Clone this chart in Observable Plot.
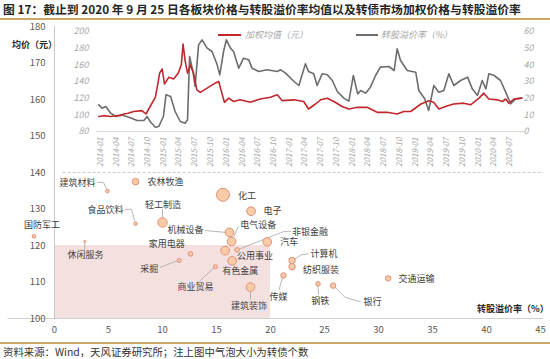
<!DOCTYPE html>
<html><head><meta charset="utf-8">
<script src="https://cdn.jsdelivr.net/npm/d3@7"></script>
<script src="https://cdn.jsdelivr.net/npm/@observablehq/plot@0.6"></script>
<style>
body{margin:0;background:#fff;}
#wrap{position:relative;width:550px;height:359px;overflow:hidden;font-family:"Noto Sans CJK SC",sans-serif;background:#fff;}
#title{position:absolute;left:3px;top:1px;font-size:11.8px;line-height:16px;font-weight:bold;color:#262626;white-space:nowrap;}
.gold{position:absolute;left:0;width:550px;height:2px;background:#c9a865;}
#source{position:absolute;left:3px;top:345px;font-size:10.4px;line-height:14px;color:#333;white-space:nowrap;}
.layer{position:absolute;left:0;top:20px;}
.bold{position:absolute;font-size:9px;line-height:14px;font-weight:bold;color:#262626;white-space:nowrap;}
.leg{position:absolute;top:28px;font-size:9px;line-height:14px;font-style:italic;color:#a6a6a6;white-space:nowrap;}
.sw{position:absolute;top:34px;height:2px;}
</style></head><body>
<div id="wrap">
 <div id="title">图 17：截止到 2020 年 9 月 25 日各板块价格与转股溢价率均值以及转债市场加权价格与转股溢价率</div>
 <div class="gold" style="top:18px"></div>
 <div id="main" class="layer"></div>
 <div id="insetB" class="layer"></div>
 <div id="insetA" class="layer"></div>
 <div class="sw" style="left:218px;width:23px;background:#c0282d"></div>
 <div class="leg" style="left:245px">加权均值（元）</div>
 <div class="sw" style="left:356px;width:22px;background:#6d6d6d"></div>
 <div class="leg" style="left:381px">转股溢价率（%）</div>
 <div class="bold" style="left:12px;top:38px">均价（元）</div>
 <div class="bold" style="left:477px;top:302px">转股溢价率（%）</div>
 <div class="gold" style="top:342px"></div>
 <div id="source">资料来源：Wind，天风证券研究所；注上图中气泡大小为转债个数</div>
</div>
<script>
// ---- bubble chart data: sector, conversion premium (%), average price (yuan), number of bonds
const sectors  = ["建筑材料","农林牧渔","化工","食品饮料","轻工制造","电子","国防军工","机械设备","电气设备","公用事业","非银金融","有色金属","汽车","休闲服务","家用电器","采掘","商业贸易","计算机","纺织服装","传媒","钢铁","银行","交通运输","建筑装饰"];
const premiums = [4.9, 7.5, 15.6, 7.5, 10.0, 18.2, -1.9, 16.2, 16.4, 15.8, 16.9, 16.45, 19.7, 2.8, 12.6, 11.55, 14.9, 22.0, 22.0, 21.2, 24.4, 25.8, 30.9, 18.15];
const prices   = [134.9, 137.5, 133.9, 126.0, 126.3, 129.4, 122.5, 123.6, 121.1, 118.6, 118.8, 115.8, 121.0, 121.1, 117.7, 115.9, 114.2, 115.9, 114.2, 111.8, 109.5, 109.0, 111.0, 108.6];
const counts   = [3, 10, 40, 3, 21, 18, 3, 18, 18, 18, 5, 18, 18, 1, 5, 4, 4, 10, 10, 7, 5, 7, 7, 18];
const xTicks = [0,5,10,15,20,25,30,35,40,45];
const yTicks = [100,110,120,130,140,150,160,170,180];
const shadeX = [0, 20];
const shadeY = [100, 120];

// ---- inset line chart data
const priceSeries = [["2013-12-22",98],["2014-01-20",99],["2014-02-28",98],["2014-04-01",99],["2014-04-25",99],["2014-05-15",101],["2014-06-10",102],["2014-07-12",104],["2014-08-29",105],["2014-09-22",101],["2014-10-16",110],["2014-11-15",121],["2014-11-28",135],["2014-12-10",150],["2014-12-25",155],["2015-01-07",137],["2015-02-01",145],["2015-03-01",143],["2015-03-28",150],["2015-04-15",160],["2015-04-25",185],["2015-05-07",165],["2015-05-21",150],["2015-06-06",160],["2015-06-25",150],["2015-07-14",130],["2015-08-03",127],["2015-09-12",132],["2015-10-28",138],["2015-11-18",140],["2015-12-01",130],["2015-12-21",115],["2016-01-15",120],["2016-02-12",116],["2016-03-21",118],["2016-05-19",115],["2016-07-16",119],["2016-09-13",121],["2016-10-22",124],["2016-11-21",117],["2017-01-28",118],["2017-03-25",116],["2017-04-22",107],["2017-06-01",113],["2017-07-01",118],["2017-08-09",120],["2017-09-16",116],["2017-11-03",110],["2017-12-12",107],["2018-01-31",109],["2018-03-28",109],["2018-05-25",103],["2018-07-22",103],["2018-09-18",101],["2018-10-27",104],["2018-12-06",104],["2019-02-03",113],["2019-03-21",117],["2019-04-18",115],["2019-05-18",107],["2019-06-25",110],["2019-08-12",113],["2019-10-09",114],["2019-11-18",112],["2020-01-06",120],["2020-02-03",126],["2020-03-03",119],["2020-04-21",118],["2020-05-21",116],["2020-06-09",119],["2020-06-27",114],["2020-07-27",119],["2020-09-10",120]];
const premiumSeries = [["2013-12-22",16],["2014-01-10",14],["2014-02-01",15],["2014-03-01",11],["2014-04-01",9],["2014-05-01",10],["2014-06-01",9],["2014-07-01",8],["2014-08-01",6.6],["2014-09-10",6.6],["2014-09-28",9],["2014-10-16",6],["2014-11-15",2.6],["2014-12-05",3],["2015-01-01",9],["2015-01-16",22],["2015-02-12",21],["2015-03-10",12],["2015-04-09",6],["2015-05-07",5],["2015-05-21",7],["2015-06-02",45],["2015-06-21",36],["2015-07-04",27],["2015-07-24",52],["2015-08-13",55],["2015-09-12",50],["2015-10-10",48],["2015-11-09",40],["2015-11-24",34],["2015-12-16",48],["2016-01-01",55],["2016-01-25",50],["2016-02-12",48],["2016-03-13",38],["2016-04-10",44],["2016-05-10",43],["2016-05-29",38],["2016-07-07",36],["2016-08-25",37],["2016-10-22",36],["2016-11-11",37],["2016-12-10",35],["2017-01-28",30],["2017-02-25",27.6],["2017-04-04",40.6],["2017-04-22",36],["2017-05-22",34.6],["2017-06-11",27.6],["2017-07-10",34.6],["2017-08-09",34],["2017-09-07",30.6],["2017-10-06",24],["2017-11-13",20],["2017-12-12",18.2],["2018-01-07",33.6],["2018-02-01",22.6],["2018-02-19",24.6],["2018-03-19",23],["2018-04-16",26.6],["2018-05-16",33.6],["2018-06-13",38.6],["2018-08-01",39],["2018-09-01",36.6],["2018-09-18",49.6],["2018-10-08",42.6],["2018-11-16",36.6],["2019-01-04",35.6],["2019-01-22",24.6],["2019-02-25",19.6],["2019-03-20",12.6],["2019-04-19",27.6],["2019-05-18",23.6],["2019-06-16",24.6],["2019-07-15",34.6],["2019-08-13",27.6],["2019-09-21",30.6],["2019-11-01",32.6],["2019-11-28",25.6],["2019-12-28",21.6],["2020-01-25",30.6],["2020-02-15",25.6],["2020-03-03",34.6],["2020-04-03",33.6],["2020-05-10",30.6],["2020-06-09",23.6],["2020-07-07",16.6],["2020-08-06",19.6],["2020-09-10",20]];
const priceTicks = [80,100,120,140,160,180,200];
const premiumTicks = [0,10,20,30,40,50,60];

// ---- label layout (data units) and leader lines
const labelLayout = [
 {name:"建筑材料",lx:3.8,ly:137.0,a:"end"},{name:"农林牧渔",lx:8.6,ly:137.5,a:"start"},{name:"化工",lx:17.0,ly:133.5,a:"start"},
 {name:"食品饮料",lx:6.4,ly:129.6,a:"end"},{name:"轻工制造",lx:10.05,ly:131.2,a:"middle"},{name:"电子",lx:19.35,ly:129.4,a:"start"},
 {name:"国防军工",lx:-1.15,ly:125.5,a:"middle"},{name:"机械设备",lx:13.8,ly:124.1,a:"end"},{name:"电气设备",lx:17.2,ly:125.7,a:"start"},
 {name:"家用电器",lx:10.4,ly:120.5,a:"middle"},{name:"休闲服务",lx:2.87,ly:117.3,a:"middle"},{name:"采掘",lx:9.6,ly:113.6,a:"end"},
 {name:"商业贸易",lx:13.05,ly:108.6,a:"middle"},{name:"公用事业",lx:16.9,ly:117.0,a:"start"},{name:"有色金属",lx:17.2,ly:112.9,a:"middle"},
 {name:"建筑装饰",lx:18.0,ly:103.4,a:"middle"},{name:"非银金融",lx:22.0,ly:123.8,a:"start"},{name:"汽车",lx:20.9,ly:121.0,a:"start"},
 {name:"计算机",lx:23.7,ly:117.7,a:"start"},{name:"纺织服装",lx:23.0,ly:113.2,a:"start"},{name:"交通运输",lx:31.85,ly:110.9,a:"start"},
 {name:"传媒",lx:20.75,ly:105.8,a:"middle"},{name:"钢铁",lx:24.6,ly:104.9,a:"middle"},{name:"银行",lx:28.6,ly:104.5,a:"start"}
];
const leaders = [
 {name:"建筑材料",pts:[[3.98,137.3],[4.54,137.3],[4.8,135.6]]},
 {name:"食品饮料",pts:[[6.57,129.9],[7.13,129.9],[7.41,126.9]]},
 {name:"轻工制造",pts:[[10.0,129.9],[10.0,127.8]]},
 {name:"机械设备",pts:[[13.98,124.1],[15.8,123.6]]},
 {name:"电气设备",pts:[[17.0,125.1],[16.6,122.4]]},
 {name:"休闲服务",pts:[[2.8,120.8],[2.8,118.9]]},
 {name:"采掘",pts:[[9.8,114.0],[10.9,115.3],[11.35,115.8]]},
 {name:"商业贸易",pts:[[13.5,110.4],[14.75,113.9]]},
 {name:"建筑装饰",pts:[[18.15,107.3],[18.15,105.3]]},
 {name:"非银金融",pts:[[21.85,123.8],[21.2,123.8],[17.1,119.0]]},
 {name:"计算机",pts:[[23.5,117.7],[22.9,117.5],[22.3,116.4]]},
 {name:"传媒",pts:[[21.1,111.1],[20.8,107.9]]},
 {name:"钢铁",pts:[[24.4,108.9],[24.45,106.6]]},
 {name:"银行",pts:[[26.0,108.5],[26.9,105.8],[28.3,104.6]]}
];

const bubbles = sectors.map((s,i)=>({name:s,x:premiums[i],y:prices[i],n:counts[i]}));
const leaderPts = leaders.flatMap(l=>l.pts.map(p=>({name:l.name,x:p[0],y:p[1]})));
const parse = d3.utcParse("%Y-%m-%d");
const priceData = priceSeries.map(d=>({date:parse(d[0]),v:d[1]}));
const premiumData = premiumSeries.map(d=>({date:parse(d[0]),v:d[1]}));
const quarterTicks = d3.utcMonth.every(3).range(new Date(Date.UTC(2014,0,1)), new Date(Date.UTC(2020,7,1)));
const xDom = [new Date(Date.UTC(2014,0,1)), new Date(Date.UTC(2020,6,1))];
const FONT = '"Noto Sans CJK SC", "Liberation Sans", sans-serif';

const main = Plot.plot({
  width:550, height:325, marginLeft:54, marginRight:10, marginTop:6, marginBottom:27,
  x:{domain:[0,45], label:null}, y:{domain:[100,180], label:null},
  r:{type:"sqrt", domain:[0,40], range:[0,6.5]},
  style:{fontFamily:FONT, fontSize:"9.5px", color:"#595959", background:"transparent", overflow:"visible"},
  marks:[
    Plot.rect([0], {x1:()=>shadeX[0], x2:()=>shadeX[1], y1:()=>shadeY[0], y2:()=>shadeY[1], fill:"#f5e0e0"}),
    Plot.ruleY([140], {x1:()=>0.8, x2:()=>45.3, stroke:"#bdbdbd", strokeDasharray:"3,2", strokeWidth:0.8}),
    Plot.ruleY([100], {x1:()=>-4.3, x2:()=>45.3, stroke:"#d0d0d0", strokeWidth:1}),
    Plot.ruleX([0], {stroke:"#c8c8c8", strokeWidth:1}),
    Plot.axisY({ticks:yTicks, tickSize:0, tickPadding:9, label:null}),
    Plot.axisX({ticks:xTicks, tickSize:0, tickPadding:8, label:null}),
    Plot.line(leaderPts, {x:"x", y:"y", z:"name", stroke:"#a6a6a6", strokeWidth:0.8}),
    Plot.dot(bubbles, {x:"x", y:"y", r:"n", fill:"#f9cba6", stroke:"#e0907a", strokeWidth:1}),
    Plot.text(labelLayout.filter(d=>d.a==="start"), {x:"lx", y:"ly", text:"name", textAnchor:"start", fill:"#404040", fontSize:9}),
    Plot.text(labelLayout.filter(d=>d.a==="end"), {x:"lx", y:"ly", text:"name", textAnchor:"end", fill:"#404040", fontSize:9}),
    Plot.text(labelLayout.filter(d=>d.a==="middle"), {x:"lx", y:"ly", text:"name", textAnchor:"middle", fill:"#404040", fontSize:9})
  ]
});
document.getElementById("main").append(main);

const insetA = Plot.plot({
  width:550, height:152, marginLeft:100, marginRight:41, marginTop:11, marginBottom:41,
  x:{type:"utc", domain:xDom, label:null}, y:{domain:[80,200], label:null},
  style:{fontFamily:FONT, fontSize:"9px", fontStyle:"italic", color:"#a6a6a6", background:"transparent", overflow:"visible"},
  marks:[
    Plot.ruleY([80], {x1:()=>new Date(Date.UTC(2013,11,10)), x2:()=>new Date(Date.UTC(2020,9,1)), stroke:"#d9d9d9"}),
    Plot.axisY({ticks:priceTicks, tickSize:0, tickPadding:12, label:null}),
    Plot.axisX({ticks:quarterTicks, tickFormat:d3.utcFormat("%Y-%m"), tickRotate:-90, tickSize:0, tickPadding:6, fontSize:8, label:null}),
    Plot.line(priceData, {x:"date", y:"v", stroke:"#c0282d", strokeWidth:1.6})
  ]
});
document.getElementById("insetA").append(insetA);

const insetB = Plot.plot({
  width:550, height:152, marginLeft:100, marginRight:41, marginTop:11, marginBottom:41,
  x:{type:"utc", domain:xDom, axis:null, label:null}, y:{domain:[0,60], axis:null, label:null},
  style:{fontFamily:FONT, fontSize:"9px", fontStyle:"italic", color:"#a6a6a6", background:"transparent", overflow:"visible"},
  marks:[
    Plot.axisY({anchor:"right", ticks:premiumTicks, tickSize:0, tickPadding:14, label:null}),
    Plot.line(premiumData, {x:"date", y:"v", stroke:"#6d6d6d", strokeWidth:1.6})
  ]
});
document.getElementById("insetB").append(insetB);
</script>
</body></html>
